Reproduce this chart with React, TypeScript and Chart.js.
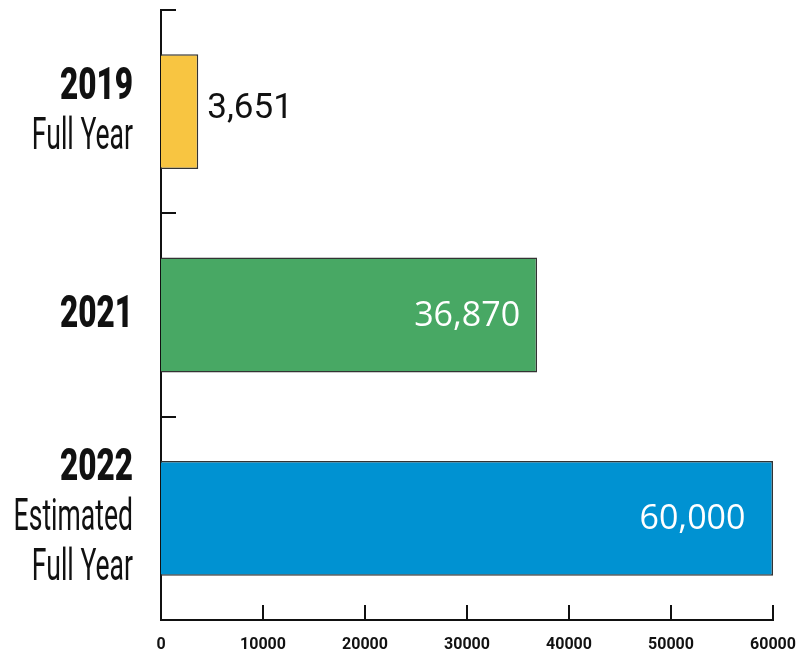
import React, { useEffect, useRef } from 'react';
import { Chart, registerables } from 'chart.js';

Chart.register(...registerables);

const categories = ['2019', '2021', '2022'];
const subLabels = [['Full Year'], [], ['Estimated', 'Full Year']];
const values = [3651, 36870, 60000];
const valueLabels = ['3,651', '36,870', '60,000'];
const barColors = ['#F8C541', '#48A864', '#0092D2'];
const xMin = 0;
const xMax = 60000;
const xStep = 10000;

const AXIS_COLOR = '#111111';

const customPlugin = {
  id: 'customDecor',
  afterDatasetsDraw(chart: any) {
    const ctx = chart.ctx as CanvasRenderingContext2D;
    const meta = chart.getDatasetMeta(0);
    ctx.save();
    ctx.textBaseline = 'middle';
    meta.data.forEach((bar: any, i: number) => {
      const text = valueLabels[i];
      const len = bar.x - bar.base;
      ctx.font = '500 34px "Open Sans"';
      const w = ctx.measureText(text).width;
      if (len > w + 40) {
        ctx.fillStyle = '#ffffff';
        ctx.textAlign = 'right';
        ctx.fillText(text, bar.x - len * 0.045, bar.y + 1);
      } else {
        ctx.font = '400 35px Roboto';
        ctx.fillStyle = '#111111';
        ctx.textAlign = 'left';
        ctx.fillText(text, bar.x + 9, bar.y - 2);
      }
    });
    ctx.restore();
  },
  afterDraw(chart: any) {
    const ctx = chart.ctx as CanvasRenderingContext2D;
    const xs = chart.scales.x;
    const ys = chart.scales.y;
    const area = chart.chartArea;
    ctx.save();
    ctx.strokeStyle = AXIS_COLOR;
    ctx.lineWidth = 2;
    xs.ticks.forEach((_t: any, i: number) => {
      const px = Math.round(xs.getPixelForTick(i));
      if (px <= area.left + 2) return;
      ctx.beginPath();
      ctx.moveTo(px, area.bottom);
      ctx.lineTo(px, area.bottom - 15);
      ctx.stroke();
    });
    for (let i = 0; i <= categories.length; i++) {
      const py = Math.round(ys.getPixelForValue(i - 0.5));
      ctx.beginPath();
      ctx.moveTo(area.left, py);
      ctx.lineTo(area.left + 15, py);
      ctx.stroke();
    }
    const rightX = area.left - 28;
    ctx.fillStyle = '#111111';
    ctx.textAlign = 'right';
    ctx.textBaseline = 'alphabetic';
    categories.forEach((cat, i) => {
      const lines = [cat, ...subLabels[i]];
      const c = ys.getPixelForValue(i);
      const n = lines.length;
      lines.forEach((line, j) => {
        const baseY = c + (j - (n - 1) / 2) * 50 + 12;
        ctx.save();
        if (j === 0) {
          ctx.font = '900 45px Roboto';
          ctx.scale(0.7, 1);
          ctx.fillText(line, rightX / 0.7, baseY);
        } else {
          ctx.font = '400 45px Roboto';
          ctx.scale(0.59, 1);
          ctx.fillText(line, rightX / 0.59, baseY);
        }
        ctx.restore();
      });
    });
    ctx.restore();
  },
};

export default function App() {
  const ref = useRef<HTMLCanvasElement | null>(null);
  useEffect(() => {
    if (!ref.current) return;
    const chart = new Chart(ref.current, {
      type: 'bar',
      data: {
        labels: categories,
        datasets: [
          {
            data: values,
            backgroundColor: barColors,
            borderColor: '#333333',
            borderWidth: 1.5,
            barPercentage: 0.565,
            categoryPercentage: 1,
          },
        ],
      },
      options: {
        indexAxis: 'y',
        animation: false,
        responsive: true,
        maintainAspectRatio: false,
        layout: { padding: { top: 10, right: 29, left: 0, bottom: 0 } },
        plugins: { legend: { display: false }, tooltip: { enabled: false } },
        scales: {
          x: {
            min: xMin,
            max: xMax,
            ticks: {
              stepSize: xStep,
              color: '#111111',
              font: { family: 'Roboto', weight: 'bold', size: 16 },
              padding: 7,
              maxRotation: 0,
              callback: (v: any) => String(v),
            },
            grid: { display: false },
            border: { display: true, color: AXIS_COLOR, width: 2 },
            afterFit: (s: any) => {
              s.height = 33;
              s.paddingRight = 0;
              s.paddingLeft = 0;
            },
          },
          y: {
            ticks: { display: false },
            grid: { display: false },
            border: { display: true, color: AXIS_COLOR, width: 2 },
            afterFit: (s: any) => {
              s.width = 161;
            },
          },
        },
      },
      plugins: [customPlugin],
    });
    return () => chart.destroy();
  }, []);
  return (
    <div style={{ position: 'fixed', left: 0, top: 0, width: 802, height: 653, background: '#ffffff' }}>
      <canvas ref={ref} />
    </div>
  );
}
